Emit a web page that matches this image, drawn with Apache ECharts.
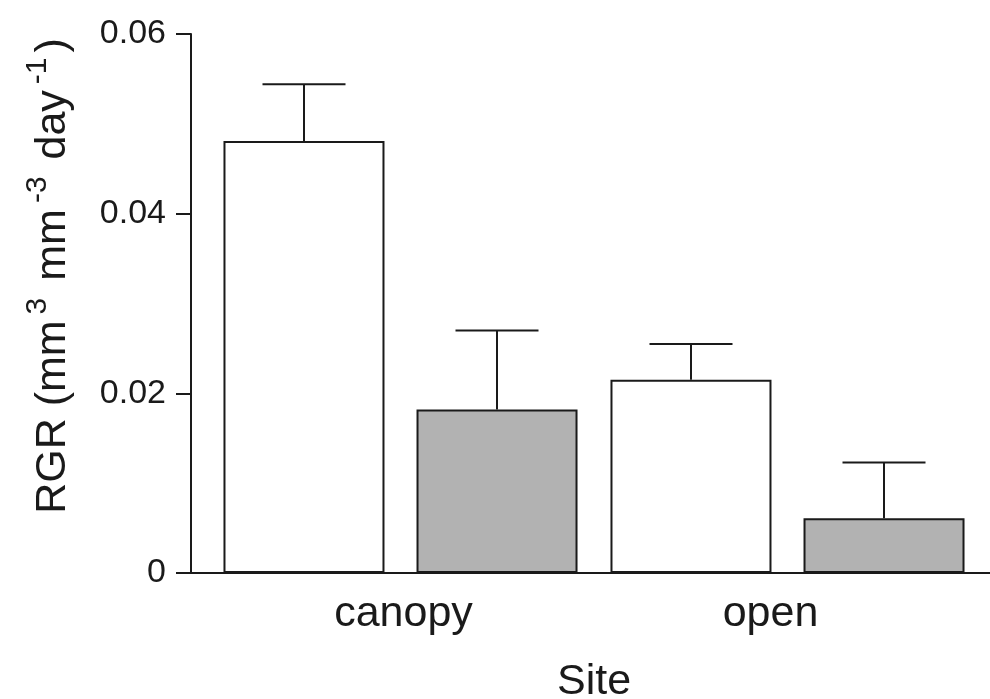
<!DOCTYPE html>
<html>
<head>
<meta charset="utf-8">
<script src="https://cdn.jsdelivr.net/npm/echarts@6/dist/echarts.min.js"></script>
<style>html,body{margin:0;padding:0;background:#fff;}#c{width:990px;height:699px;}</style>
</head>
<body>
<div id="c"></div>
<script>
const categories = ['canopy', 'open'];
const whiteValues = [0.0481, 0.0215];
const whiteErrors = [0.0063, 0.0040];
const grayValues = [0.0182, 0.0061];
const grayErrors = [0.0088, 0.0062];
const yTicks = [0, 0.02, 0.04, 0.06];

const FONT = 'Liberation Sans, Arial, sans-serif';
const INK = '#1a1a1a';
const BAR_W = 161;
const GAP = 32;
const CAP = 83;

const chart = echarts.init(document.getElementById('c'), null, {renderer: 'canvas'});

function errItem(sign) {
  return function (params, api) {
    const cat = api.value(0);
    const v = api.value(1);
    const e = api.value(2);
    const base = api.coord([cat, v]);
    const top = api.coord([cat, v + e]);
    const x = base[0] + sign * (BAR_W + GAP) / 2;
    const style = {stroke: INK, lineWidth: 2};
    return {
      type: 'group',
      children: [
        {type: 'line', shape: {x1: x, y1: base[1], x2: x, y2: top[1]}, style: style},
        {type: 'line', shape: {x1: x - CAP / 2, y1: top[1], x2: x + CAP / 2, y2: top[1]}, style: style}
      ]
    };
  };
}

const option = {
  animation: false,
  backgroundColor: '#fff',
  textStyle: {fontFamily: FONT},
  grid: [
    {left: 191, right: 0, top: 34, bottom: 126, outerBoundsMode: 'none', containLabel: false},
    {left: 207, right: 9, top: 34, bottom: 126, outerBoundsMode: 'none', containLabel: false}
  ],
  xAxis: [
    {
      gridIndex: 0, type: 'value', min: 0, max: 1,
      axisLine: {show: true, lineStyle: {color: INK, width: 2}},
      axisTick: {show: false}, axisLabel: {show: false}, splitLine: {show: false}
    },
    {
      gridIndex: 1, type: 'category', data: categories,
      axisLine: {show: false}, axisTick: {show: false}, splitLine: {show: false},
      axisLabel: {
        fontSize: 43, color: INK, fontFamily: FONT, margin: 20,
        formatter: function (v) { return v === 'open' ? '{o|' + v + '}' : '{c|' + v + '}'; },
        rich: {
          c: {fontSize: 43, color: INK, fontFamily: FONT, padding: [0, 0, 0, 6]},
          o: {fontSize: 43, color: INK, fontFamily: FONT, padding: [0, 34, 10, 0]}
        }
      },
      name: 'Site', nameLocation: 'middle', nameGap: 88,
      nameTextStyle: {fontSize: 43, color: INK, fontFamily: FONT}
    }
  ],
  yAxis: [
    {
      gridIndex: 0, type: 'value', min: yTicks[0], max: yTicks[yTicks.length - 1], interval: 0.02,
      axisLine: {show: true, lineStyle: {color: INK, width: 2}},
      axisTick: {show: true, inside: false, length: 15, lineStyle: {color: INK, width: 2}},
      splitLine: {show: false},
      axisLabel: {fontSize: 34, color: INK, fontFamily: FONT, margin: 25},
      name: '{n|RGR (mm}{s|3}{n| mm}{s|-3}{n| day}{s|-1}{n|)}',
      nameLocation: 'middle', nameRotate: 90, nameGap: 116,
      nameTextStyle: {
        fontFamily: FONT, color: INK, padding: [0, 0, 0, 55],
        rich: {
          n: {fontSize: 43, color: INK, fontFamily: FONT, lineHeight: 52, verticalAlign: 'bottom'},
          s: {fontSize: 30, color: INK, fontFamily: FONT, lineHeight: 52, verticalAlign: 'top', padding: [0, 5, 22, 6]}
        }
      }
    },
    {
      gridIndex: 1, type: 'value', min: 0, max: 0.06, show: false
    }
  ],
  series: [
    {
      type: 'bar', xAxisIndex: 1, yAxisIndex: 1, data: whiteValues,
      barWidth: BAR_W, barGap: (GAP / BAR_W * 100).toFixed(1) + '%',
      itemStyle: {color: '#ffffff', borderColor: INK, borderWidth: 2},
      silent: true
    },
    {
      type: 'bar', xAxisIndex: 1, yAxisIndex: 1, data: grayValues,
      barWidth: BAR_W, barGap: (GAP / BAR_W * 100).toFixed(1) + '%',
      itemStyle: {color: '#b2b2b2', borderColor: INK, borderWidth: 2},
      silent: true
    },
    {
      type: 'custom', xAxisIndex: 1, yAxisIndex: 1, z: 5,
      data: categories.map((c, i) => [i, whiteValues[i], whiteErrors[i]]),
      renderItem: errItem(-1)
    },
    {
      type: 'custom', xAxisIndex: 1, yAxisIndex: 1, z: 5,
      data: categories.map((c, i) => [i, grayValues[i], grayErrors[i]]),
      renderItem: errItem(1)
    }
  ]
};
chart.setOption(option);
</script>
</body>
</html>
